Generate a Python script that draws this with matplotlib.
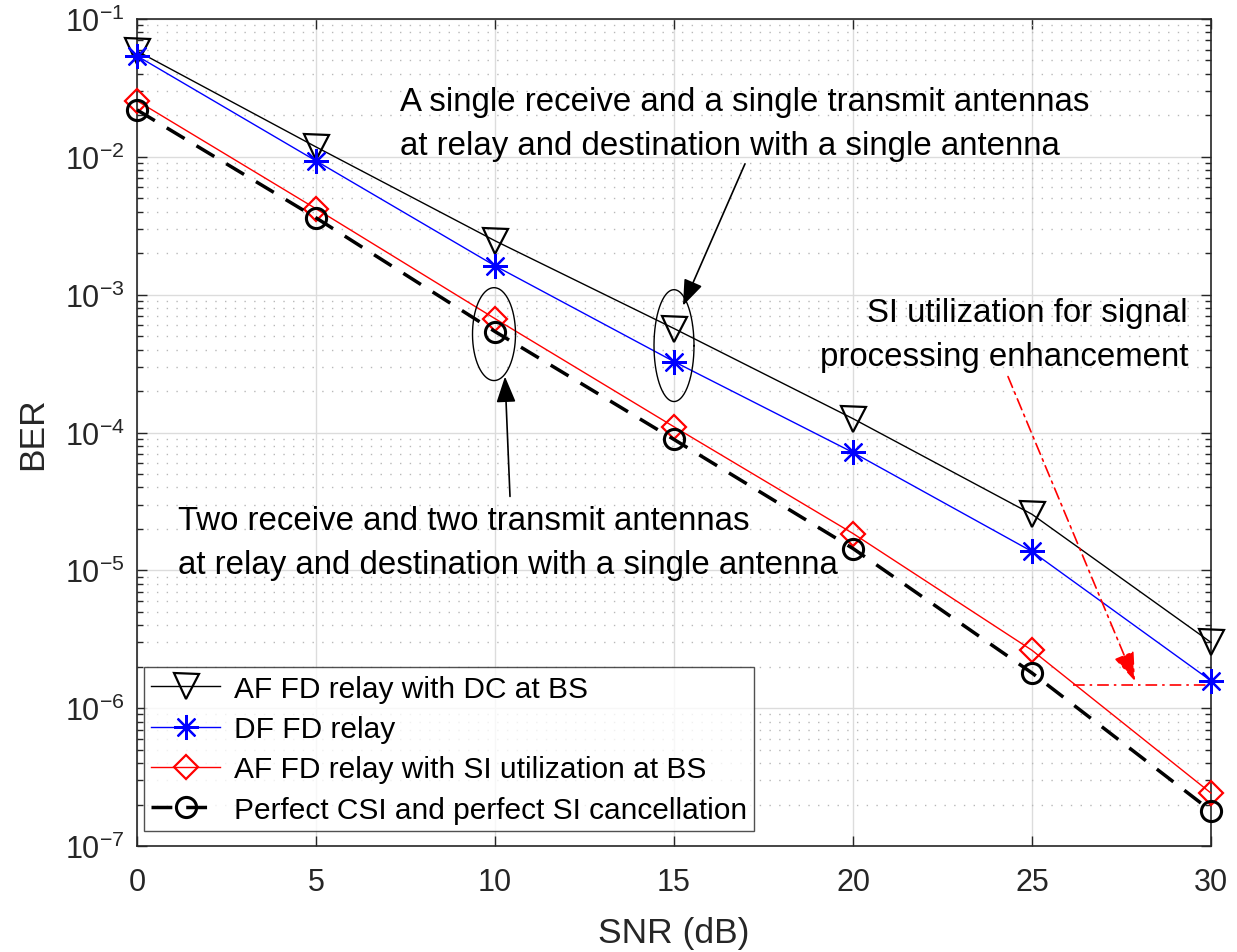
import numpy as np
import matplotlib
matplotlib.use("Agg")
import matplotlib.pyplot as plt
from matplotlib.ticker import LogLocator, NullFormatter, FixedLocator

plt.rcParams['font.family'] = ['Liberation Sans', 'DejaVu Sans']
plt.rcParams['mathtext.fontset'] = 'custom'
plt.rcParams['mathtext.rm'] = 'Liberation Sans'
plt.rcParams['mathtext.it'] = 'Liberation Sans:italic'
plt.rcParams['mathtext.bf'] = 'Liberation Sans:bold'

# ---- data ----
snr = [0, 5, 10, 15, 20, 25, 30]
ber_af_dc = [5.86e-2, 1.18e-2, 2.46e-3, 5.68e-4, 1.26e-4, 2.55e-5, 3.0e-6]
ber_df = [5.4e-2, 9.35e-3, 1.62e-3, 3.27e-4, 7.16e-5, 1.37e-5, 1.58e-6]
ber_af_si = [2.55e-2, 4.2e-3, 6.7e-4, 1.1e-4, 1.85e-5, 2.63e-6, 2.42e-7]
ber_perfect = [2.19e-2, 3.61e-3, 5.4e-4, 8.9e-5, 1.44e-5, 1.8e-6, 1.8e-7]
labels = ["AF FD relay with DC at BS", "DF FD relay",
          "AF FD relay with SI utilization at BS",
          "Perfect CSI and perfect SI cancellation"]
xticks = [0, 5, 10, 15, 20, 25, 30]

TC = '#262626'
FS_TICK = 22
FS_LAB = 25.5
FS_ANN = 23.8
FS_LEG = 21.5

fig = plt.figure(figsize=(12.37, 9.53), dpi=100)
ax = fig.add_axes([137/1237, 1-847/953, (1211-137)/1237, (847-20)/953])

ax.plot(snr, ber_af_dc, color='k', lw=1.0, marker='v', ms=18, mfc='none', mew=1.6, label=labels[0], zorder=3, clip_on=False)
ax.plot(snr, ber_df, color='b', lw=1.0, marker=(8, 2, 0), ms=18, mew=1.6, label=labels[1], zorder=3, clip_on=False)
ax.plot(snr, ber_af_si, color='r', lw=1.0, marker='D', ms=12.5, mfc='none', mew=1.6, label=labels[2], zorder=3, clip_on=False)
ax.plot(snr, ber_perfect, color='k', lw=2.5, ls=(0, (6, 4)), marker='o', ms=14.5, mfc='none', mew=2.2, label=labels[3], zorder=3, clip_on=False)

ax.set_yscale('log')
ax.set_xlim(0, 30)
ax.set_ylim(1e-7, 1e-1)
ax.xaxis.set_major_locator(FixedLocator(xticks))
ax.yaxis.set_major_locator(LogLocator(base=10, numticks=20))
ax.yaxis.set_minor_locator(LogLocator(base=10, subs=np.arange(2, 10), numticks=20))
ax.yaxis.set_minor_formatter(NullFormatter())

ax.grid(True, which='major', color='#dcdcdc', lw=1.0, ls='-')
ax.grid(True, which='minor', axis='y', color='#b8b8b8', lw=1.0, ls=(0, (1, 6)))
ax.set_axisbelow(True)

ax.tick_params(which='both', direction='in', top=True, right=True, colors=TC, labelsize=FS_TICK)
ax.tick_params(which='major', length=7, width=1.0)
ax.tick_params(which='minor', length=4, width=1.0)
ax.tick_params(axis='x', which='major', pad=15)
ax.tick_params(axis='y', which='major', pad=9)
for s in ax.spines.values():
    s.set_color(TC)
    s.set_linewidth(1.2)

ax.set_xlabel('SNR (dB)', fontsize=FS_LAB, color=TC, labelpad=14)
ax.set_ylabel('BER', fontsize=FS_LAB, color=TC, labelpad=11)

leg = ax.legend(loc='lower left', bbox_to_anchor=(0.0065, 0.018), borderaxespad=0,
                fontsize=FS_LEG, frameon=True, fancybox=False, edgecolor=TC,
                handlelength=2.3, handletextpad=0.45, labelspacing=0.41,
                borderpad=0.25)
leg.get_frame().set_linewidth(1.0)

def lx(px):
    return (px - 137) / 35.8

def ly(py):
    return 10 ** (-1 - (py - 20) / 138)

# annotation 1
ax.text(lx(400), ly(103), "A single receive and a single transmit antennas",
        fontsize=FS_ANN, ha='left', va='center', color='k')
ax.text(lx(400), ly(147), "at relay and destination with a single antenna",
        fontsize=FS_ANN, ha='left', va='center', color='k')
ax.annotate("", xy=(lx(683), ly(307)), xytext=(lx(745), ly(165)),
            arrowprops=dict(arrowstyle='-|>,head_length=1.6,head_width=0.6', color='k', lw=1.2,
                            shrinkA=0, shrinkB=0))
# annotation 2
ax.text(lx(178), ly(522), "Two receive and two transmit antennas",
        fontsize=FS_ANN, ha='left', va='center', color='k')
ax.text(lx(178), ly(566), "at relay and destination with a single antenna",
        fontsize=FS_ANN, ha='left', va='center', color='k')
ax.annotate("", xy=(lx(505), ly(378)), xytext=(lx(510), ly(498)),
            arrowprops=dict(arrowstyle='-|>,head_length=1.6,head_width=0.6', color='k', lw=1.2,
                            shrinkA=0, shrinkB=0))
# annotation 3
ax.text(lx(1188), ly(314), "SI utilization for signal",
        fontsize=FS_ANN, ha='right', va='center', color='k')
ax.text(lx(1188), ly(358), "processing enhancement",
        fontsize=FS_ANN, ha='right', va='center', color='k')
ax.annotate("", xy=(lx(1135), ly(683)), xytext=(lx(1008), ly(378)),
            arrowprops=dict(arrowstyle='-|>,head_length=1.8,head_width=0.65', color='r', lw=1.2,
                            ls=(0, (7, 3, 1.5, 3)), shrinkA=0, shrinkB=0))
ax.plot([lx(1073), 30], [ly(687), ly(687)], color='r', lw=1.2, ls=(0, (7, 3, 1.5, 3)), zorder=2)

# ellipses
t = np.linspace(0, 2 * np.pi, 200)
for cx, cy, hw, hh in [(494, 335.5, 21.5, 46.5), (674, 347, 20, 56)]:
    ex = lx(cx + hw * np.cos(t))
    ey = ly(cy + hh * np.sin(t))
    ax.plot(ex, ey, color='k', lw=1.0, zorder=4)

fig.savefig('out.png', dpi=100)
